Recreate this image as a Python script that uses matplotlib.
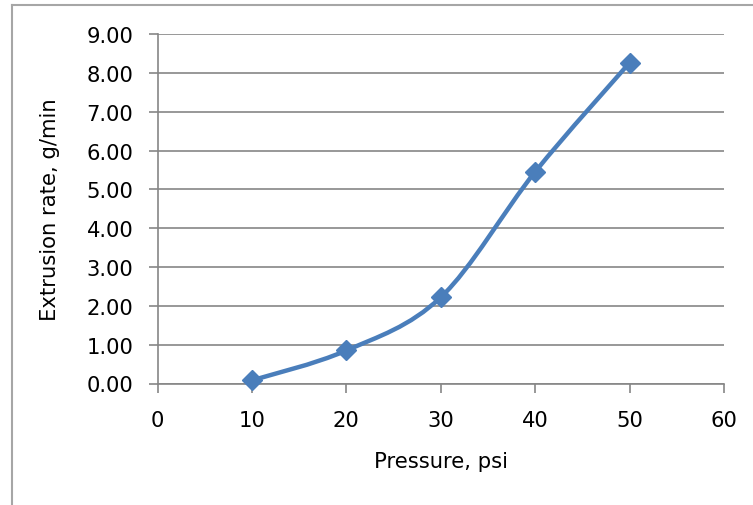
import numpy as np
import matplotlib
matplotlib.use("Agg")
import matplotlib.pyplot as plt
from matplotlib.path import Path
from matplotlib.patches import PathPatch
from matplotlib.lines import Line2D

plt.rcParams['font.family'] = ['DejaVu Sans']

# data
pressure = [10, 20, 30, 40, 50]
rate = [0.08, 0.85, 2.22, 5.45, 8.26]
xticks = [0, 10, 20, 30, 40, 50, 60]
yticks = [0, 1, 2, 3, 4, 5, 6, 7, 8, 9]

blue = '#4a7ebb'
grey = '#868686'
fs = 15.2


# Excel-like smoothed line: Catmull-Rom segments as cubic beziers
def smooth_path(xs, ys):
    pts = np.column_stack([xs, ys]).astype(float)
    n = len(pts)
    verts = [pts[0]]
    codes = [Path.MOVETO]
    for i in range(n - 1):
        p0 = pts[i - 1] if i > 0 else pts[i]
        p1 = pts[i]
        p2 = pts[i + 1]
        p3 = pts[i + 2] if i + 2 < n else pts[i + 1]
        c1 = p1 + (p2 - p0) / 6.0
        c2 = p2 - (p3 - p1) / 6.0
        verts += [c1, c2, p2]
        codes += [Path.CURVE4] * 3
    return Path(verts, codes)


fig = plt.figure(figsize=(7.53, 5.06), dpi=100)
ax = fig.add_axes([157.5 / 753, 1 - 384.5 / 506, (724 - 157.5) / 753, (384.5 - 35) / 506])

ax.set_xlim(0, 60)
ax.set_ylim(0, 9)
ax.set_xticks(xticks)
ax.set_yticks(yticks)
ax.set_yticklabels(['%.2f' % v for v in yticks])

ax.grid(axis='y', color=grey, lw=1.2)
ax.set_axisbelow(True)
for side in ['top', 'right']:
    ax.spines[side].set_visible(False)
for side in ['left', 'bottom']:
    ax.spines[side].set_color(grey)
    ax.spines[side].set_linewidth(1.2)
ax.tick_params(axis='both', color=grey, width=1.2, length=6.5, labelsize=fs, labelcolor='black')
ax.tick_params(axis='y', pad=11)
ax.tick_params(axis='x', pad=12.5)

ax.add_patch(PathPatch(smooth_path(pressure, rate), facecolor='none', edgecolor=blue,
                       lw=3.2, capstyle='round', joinstyle='round', zorder=3))
ax.plot(pressure, rate, linestyle='none', marker='D', markersize=9.8,
        color=blue, markeredgecolor=blue, zorder=4, clip_on=False)

ax.set_xlabel('Pressure, psi', fontsize=fs, labelpad=15.5)
ax.set_ylabel('Extrusion rate, g/min', fontsize=fs, labelpad=19)

# outer chart frame (cut at right and bottom edge)
fx0 = 12 / 753
fy0 = 1 - 6 / 506
fig.add_artist(Line2D([fx0, 1.0], [fy0, fy0], transform=fig.transFigure, color='#a6a6a6', lw=1.5))
fig.add_artist(Line2D([fx0, fx0], [0.0, fy0], transform=fig.transFigure, color='#a6a6a6', lw=1.5))

fig.savefig('out.png', dpi=100)
